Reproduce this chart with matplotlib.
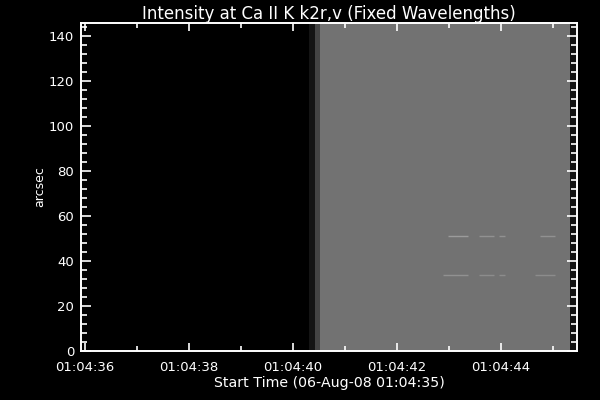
import numpy as np
import matplotlib
matplotlib.use('Agg')
import matplotlib.pyplot as plt
from matplotlib.ticker import MultipleLocator, FuncFormatter

# time axis: seconds after 01:04:00
col_edges = [35.93, 40.31, 40.43, 40.52, 45.33, 45.46]
col_values = [0.0, 20, 68, 114, 18]  # grey level per column block
y_range = [0, 145.8]

# bright streaks (arcsec, start time, end time)
streak_y = [51.0, 51.0, 51.0, 51.0, 33.6, 33.6, 33.6, 33.6]
streak_t0 = [42.98, 43.58, 43.96, 44.75, 42.89, 43.58, 43.96, 44.65]
streak_t1 = [43.37, 43.87, 44.07, 45.04, 43.37, 43.87, 44.08, 45.04]
streak_level = [155, 145, 145, 145, 145, 140, 140, 140]

fig = plt.figure(figsize=(6, 4), dpi=100, facecolor='black')
ax = fig.add_axes([81 / 600, 1 - 351 / 400, 496 / 600, 328 / 400])
ax.set_facecolor('black')

img = np.array([col_values], dtype=float)
ax.pcolormesh(col_edges, y_range, img, cmap='gray', vmin=0, vmax=255, shading='flat')

for y, t0, t1, lv in zip(streak_y, streak_t0, streak_t1, streak_level):
    ax.hlines(y, t0, t1, colors=str(lv / 255), linewidth=1.0)

ax.set_xlim(col_edges[0], col_edges[-1])
ax.set_ylim(y_range)

ax.xaxis.set_major_locator(MultipleLocator(2))
ax.xaxis.set_minor_locator(MultipleLocator(1))
ax.yaxis.set_major_locator(MultipleLocator(20))
ax.yaxis.set_minor_locator(MultipleLocator(4))
ax.xaxis.set_major_formatter(FuncFormatter(lambda v, p: '01:04:%02d' % int(round(v))))

for s in ax.spines.values():
    s.set_color('white')
    s.set_linewidth(1.4)

ax.tick_params(which='both', direction='in', colors='white', top=True, right=True,
               width=1.2, labelsize=9.5)
ax.tick_params(axis='x', which='major', length=6, pad=7)
ax.tick_params(axis='x', which='minor', length=3.5)
ax.tick_params(axis='y', which='major', length=7, pad=5)
ax.tick_params(axis='y', which='minor', length=4.5)

ax.set_title('Intensity at Ca II K k2r,v (Fixed Wavelengths)', color='white',
             fontsize=12, pad=3)
ax.set_xlabel('Start Time (06-Aug-08 01:04:35)', color='white', fontsize=10.2, labelpad=2)
ax.set_ylabel('arcsec', color='white', fontsize=9, labelpad=2)

fig.savefig('out.png', dpi=100, facecolor='black')
